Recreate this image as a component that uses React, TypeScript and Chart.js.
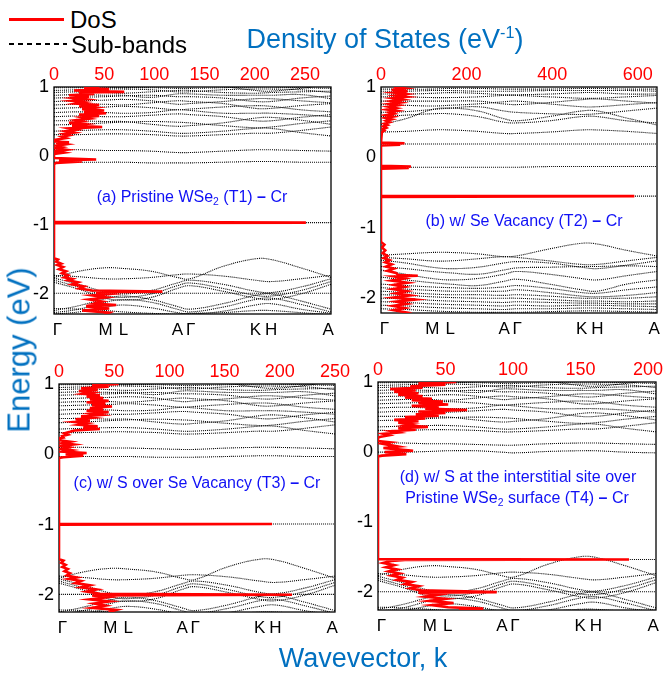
import React, { useEffect, useRef } from 'react';
import { Chart, registerables } from 'chart.js';

Chart.register(...registerables);
Chart.defaults.font.family = '"Liberation Sans", Arial, sans-serif';

// ---------------- k-path / ticks ----------------
const K_NODES = [0, 0.09, 0.185, 0.25, 0.35, 0.445, 0.49, 0.61, 0.727, 0.783, 0.89, 1.0];
const K_TICK_POS = [0.012, 0.186, 0.251, 0.446, 0.493, 0.727, 0.784, 0.99];
const K_TICK_LABELS = ['Γ', 'M', 'L', 'A', 'Γ', 'K', 'H', 'A'];
const ENERGY_TICKS = [1, 0, -1, -2];

const DOS_TICKS_A = [0, 50, 100, 150, 200, 250];
const DOS_TICKS_B = [0, 200, 400, 600];
const DOS_TICKS_C = [0, 50, 100, 150, 200, 250];
const DOS_TICKS_D = [0, 50, 100, 150, 200];
const DOS_MAX_A = 276;
const DOS_MAX_B = 645;
const DOS_MAX_C = 250;
const DOS_MAX_D = 206;
const E_MIN_A = -2.29;
const E_MIN_B = -2.21;
const E_MIN_C = -2.24;
const E_MIN_D = -2.25;

// ---------------- sub-bands (energy at K_NODES) ----------------
const UPPER_ACD = [
  [0.31, 0.31, 0.32, 0.32, 0.31, 0.29, 0.29, 0.31, 0.33, 0.33, 0.37, 0.42],
  [0.36, 0.37, 0.38, 0.38, 0.36, 0.33, 0.33, 0.36, 0.40, 0.40, 0.34, 0.29],
  [0.45, 0.46, 0.48, 0.49, 0.50, 0.49, 0.48, 0.44, 0.41, 0.42, 0.47, 0.51],
  [0.51, 0.51, 0.50, 0.50, 0.46, 0.43, 0.44, 0.48, 0.55, 0.56, 0.52, 0.46],
  [0.57, 0.58, 0.57, 0.57, 0.59, 0.61, 0.60, 0.57, 0.51, 0.51, 0.56, 0.60],
  [0.63, 0.64, 0.63, 0.62, 0.63, 0.67, 0.66, 0.62, 0.62, 0.62, 0.60, 0.57],
  [0.69, 0.70, 0.71, 0.72, 0.70, 0.67, 0.68, 0.71, 0.73, 0.72, 0.67, 0.64],
  [0.74, 0.75, 0.75, 0.74, 0.77, 0.80, 0.79, 0.76, 0.69, 0.69, 0.73, 0.76],
  [0.79, 0.80, 0.81, 0.82, 0.80, 0.75, 0.76, 0.79, 0.83, 0.83, 0.80, 0.77],
  [0.84, 0.85, 0.86, 0.87, 0.88, 0.86, 0.86, 0.84, 0.79, 0.79, 0.84, 0.87],
  [0.88, 0.89, 0.88, 0.88, 0.85, 0.90, 0.90, 0.88, 0.88, 0.88, 0.89, 0.83],
  [0.92, 0.93, 0.92, 0.91, 0.93, 0.95, 0.95, 0.92, 0.91, 0.92, 0.93, 0.94],
  [0.95, 0.96, 0.97, 0.97, 0.96, 0.93, 0.93, 0.96, 0.97, 0.97, 0.96, 0.92],
  [0.99, 0.99, 0.99, 0.99, 0.99, 0.98, 0.98, 0.99, 1.0, 1.0, 0.99, 0.98],
  [1.05, 1.03, 1.0, 0.99, 1.02, 1.06, 1.05, 1.01, 0.95, 0.94, 0.98, 1.04],
];
const LOWER_ACD = [
  [-1.76, -1.67, -1.62, -1.63, -1.67, -1.76, -1.78, -1.6, -1.49, -1.5, -1.62, -1.76],
  [-1.73, -1.75, -1.78, -1.78, -1.76, -1.72, -1.71, -1.74, -1.8, -1.82, -1.78, -1.73],
  [-1.77, -1.86, -1.97, -2.0, -1.95, -1.84, -1.8, -1.86, -1.96, -1.98, -1.9, -1.78],
  [-1.8, -1.9, -2.02, -2.05, -2.0, -1.88, -1.84, -1.92, -2.02, -2.03, -1.95, -1.82],
  [-1.83, -1.93, -2.06, -2.09, -2.05, -1.92, -1.88, -1.96, -2.06, -2.08, -2.0, -1.86],
  [-1.99, -1.99, -1.99, -1.99, -1.99, -1.99, -1.99, -1.99, -1.99, -1.99, -1.99, -1.99],
  [-2.24, -2.17, -2.07, -2.03, -2.08, -2.18, -2.22, -2.14, -2.02, -2.0, -2.1, -2.22],
  [-2.27, -2.22, -2.12, -2.08, -2.12, -2.22, -2.26, -2.19, -2.08, -2.06, -2.15, -2.26],
  [-2.29, -2.26, -2.19, -2.16, -2.2, -2.27, -2.29, -2.25, -2.16, -2.14, -2.22, -2.28],
  [-2.21, -2.22, -2.24, -2.26, -2.28, -2.29, -2.28, -2.27, -2.24, -2.24, -2.27, -2.3],
];
const GAP_A = [
  [0.09, 0.09, 0.08, 0.08, 0.07, 0.05, 0.05, 0.07, 0.09, 0.09, 0.08, 0.07],
  [-0.09, -0.09, -0.09, -0.09, -0.1, -0.1, -0.1, -0.09, -0.08, -0.08, -0.09, -0.09],
  [-0.965, -0.965, -0.965, -0.965, -0.965, -0.965, -0.965, -0.965, -0.965, -0.965, -0.965, -0.965],
];
const GAP_C = [
  [0.1, 0.1, 0.09, 0.09, 0.08, 0.07, 0.07, 0.09, 0.1, 0.1, 0.09, 0.08],
  [-0.03, -0.03, -0.03, -0.03, -0.04, -0.04, -0.04, -0.03, -0.02, -0.02, -0.03, -0.03],
  [-0.99, -0.99, -0.99, -0.99, -0.99, -0.99, -0.99, -0.99, -0.99, -0.99, -0.99, -0.99],
];
const GAP_D = [
  [0.13, 0.13, 0.12, 0.12, 0.11, 0.1, 0.1, 0.12, 0.13, 0.13, 0.12, 0.11],
  [0.0, 0.0, 0.01, 0.02, 0.02, 0.0, -0.01, 0.01, 0.02, 0.02, 0.0, -0.01],
  [-1.53, -1.53, -1.53, -1.53, -1.53, -1.53, -1.53, -1.53, -1.53, -1.53, -1.53, -1.53],
];
const UPPER_B = [
  [0.36, 0.37, 0.39, 0.39, 0.37, 0.34, 0.34, 0.36, 0.39, 0.39, 0.37, 0.34],
  [0.47, 0.55, 0.68, 0.7, 0.66, 0.55, 0.52, 0.58, 0.66, 0.66, 0.56, 0.46],
  [0.58, 0.6, 0.62, 0.62, 0.58, 0.5, 0.49, 0.52, 0.58, 0.58, 0.52, 0.49],
  [0.64, 0.65, 0.68, 0.7, 0.72, 0.66, 0.64, 0.62, 0.61, 0.62, 0.66, 0.7],
  [0.75, 0.74, 0.73, 0.74, 0.76, 0.79, 0.8, 0.76, 0.72, 0.72, 0.75, 0.78],
  [0.8, 0.8, 0.8, 0.8, 0.8, 0.76, 0.75, 0.78, 0.82, 0.83, 0.8, 0.77],
  [0.86, 0.86, 0.85, 0.85, 0.86, 0.88, 0.88, 0.86, 0.84, 0.84, 0.86, 0.88],
  [0.9, 0.9, 0.91, 0.92, 0.91, 0.89, 0.89, 0.9, 0.92, 0.92, 0.9, 0.9],
  [0.94, 0.94, 0.95, 0.95, 0.94, 0.94, 0.94, 0.95, 0.95, 0.95, 0.95, 0.94],
  [0.97, 0.97, 0.97, 0.98, 0.98, 0.97, 0.97, 0.97, 0.98, 0.98, 0.97, 0.97],
];
const GAP_B = [
  [0.19, 0.19, 0.19, 0.19, 0.19, 0.19, 0.19, 0.19, 0.19, 0.19, 0.19, 0.19],
  [-0.14, -0.14, -0.14, -0.14, -0.14, -0.14, -0.14, -0.13, -0.13, -0.13, -0.13, -0.13],
  [-0.55, -0.55, -0.55, -0.55, -0.55, -0.55, -0.55, -0.55, -0.55, -0.55, -0.55, -0.55],
];
const LOWER_B = [
  [-1.39, -1.37, -1.35, -1.35, -1.37, -1.41, -1.4, -1.3, -1.22, -1.23, -1.32, -1.4],
  [-1.42, -1.44, -1.47, -1.47, -1.44, -1.41, -1.42, -1.47, -1.52, -1.52, -1.47, -1.42],
  [-1.46, -1.5, -1.56, -1.58, -1.56, -1.5, -1.48, -1.5, -1.56, -1.58, -1.53, -1.47],
  [-1.55, -1.58, -1.62, -1.64, -1.66, -1.6, -1.57, -1.56, -1.55, -1.55, -1.54, -1.55],
  [-1.6, -1.66, -1.72, -1.74, -1.72, -1.66, -1.62, -1.66, -1.72, -1.74, -1.68, -1.62],
  [-1.7, -1.74, -1.78, -1.8, -1.82, -1.76, -1.73, -1.8, -1.88, -1.9, -1.8, -1.74],
  [-1.8, -1.82, -1.84, -1.85, -1.86, -1.84, -1.82, -1.86, -1.92, -1.93, -1.88, -1.84],
  [-1.85, -1.87, -1.89, -1.9, -1.9, -1.9, -1.88, -1.92, -1.97, -1.98, -1.96, -1.92],
  [-1.9, -1.92, -1.94, -1.95, -1.95, -1.96, -1.95, -1.97, -2.0, -2.0, -2.0, -1.98],
  [-1.95, -1.96, -1.98, -1.99, -2.0, -2.0, -2.0, -2.02, -2.04, -2.04, -2.05, -2.04],
  [-2.0, -2.01, -2.03, -2.04, -2.05, -2.06, -2.05, -2.06, -2.07, -2.07, -2.08, -2.08],
  [-2.05, -2.06, -2.08, -2.09, -2.1, -2.11, -2.1, -2.11, -2.1, -2.1, -2.11, -2.12],
  [-2.1, -2.11, -2.13, -2.14, -2.15, -2.16, -2.15, -2.15, -2.14, -2.14, -2.15, -2.16],
  [-2.15, -2.16, -2.18, -2.19, -2.2, -2.2, -2.2, -2.19, -2.18, -2.18, -2.19, -2.2],
];

// ---------------- density of states (energy, value) ----------------
const DOS_A_E = [1.0, 0.98, 0.97, 0.95, 0.93, 0.92, 0.9, 0.88, 0.86, 0.84, 0.82, 0.8, 0.78, 0.76, 0.74, 0.72, 0.7, 0.68, 0.66, 0.64, 0.62, 0.6, 0.58, 0.56, 0.54, 0.52, 0.5, 0.48, 0.46, 0.44, 0.42, 0.4, 0.38, 0.36, 0.34, 0.32, 0.3, 0.28, 0.26, 0.24, 0.23, 0.21, 0.2, 0.19, 0.17, 0.15, 0.13, 0.11, 0.09, 0.07, 0.05, 0.03, -0.03, -0.05, -0.06, -0.08, -0.1, -0.12, -0.955, -0.965, -0.975, -1.48, -1.5, -1.53, -1.56, -1.58, -1.61, -1.64, -1.67, -1.7, -1.73, -1.76, -1.78, -1.8, -1.83, -1.86, -1.89, -1.92, -1.95, -1.965, -1.975, -2.0, -2.02, -2.05, -2.08, -2.11, -2.14, -2.16, -2.18, -2.21, -2.24, -2.27, -2.3];
const DOS_A_V = [45, 30, 55, 20, 70, 25, 40, 15, 35, 20, 32, 18, 30, 22, 45, 25, 40, 28, 50, 30, 52, 25, 45, 28, 35, 22, 28, 15, 30, 18, 48, 15, 22, 12, 20, 10, 15, 8, 12, 3, 0, 0, 15, 2, 12, 2, 8, 1, 12, 2, 10, 0, 0, 42, 5, 28, 2, 0, 0, 251, 0, 0, 4, 2, 7, 3, 9, 5, 12, 8, 14, 10, 18, 14, 24, 18, 30, 25, 38, 108, 42, 55, 38, 52, 35, 48, 40, 62, 32, 55, 28, 55, 50];

const DOS_B_E = [1.0, 0.98, 0.96, 0.94, 0.92, 0.9, 0.88, 0.86, 0.84, 0.82, 0.8, 0.78, 0.76, 0.74, 0.72, 0.7, 0.68, 0.66, 0.64, 0.62, 0.6, 0.58, 0.56, 0.54, 0.52, 0.5, 0.48, 0.46, 0.44, 0.42, 0.4, 0.38, 0.36, 0.35, 0.21, 0.2, 0.19, 0.18, 0.17, -0.12, -0.13, -0.14, -0.15, -0.16, -0.545, -0.55, -0.56, -1.2, -1.24, -1.28, -1.32, -1.36, -1.4, -1.43, -1.46, -1.49, -1.52, -1.55, -1.58, -1.61, -1.64, -1.67, -1.68, -1.69, -1.72, -1.75, -1.78, -1.81, -1.84, -1.87, -1.9, -1.93, -1.96, -1.99, -2.02, -2.05, -2.08, -2.11, -2.14, -2.17, -2.2, -2.21];
const DOS_B_V = [30, 55, 25, 62, 30, 58, 35, 60, 28, 50, 25, 45, 20, 40, 18, 35, 15, 38, 20, 30, 12, 28, 10, 25, 12, 20, 8, 15, 5, 12, 4, 8, 2, 0, 0, 55, 10, 45, 0, 0, 70, 20, 65, 0, 0, 592, 0, 0, 8, 2, 10, 4, 15, 6, 20, 10, 25, 12, 30, 15, 35, 40, 86, 30, 55, 25, 62, 30, 55, 28, 60, 35, 68, 30, 80, 35, 60, 28, 55, 30, 58, 50];

const DOS_C_E = [1.0, 0.98, 0.96, 0.94, 0.92, 0.9, 0.88, 0.86, 0.84, 0.82, 0.8, 0.78, 0.76, 0.74, 0.72, 0.7, 0.68, 0.66, 0.64, 0.62, 0.6, 0.58, 0.56, 0.54, 0.52, 0.5, 0.48, 0.46, 0.44, 0.42, 0.4, 0.38, 0.36, 0.34, 0.32, 0.3, 0.28, 0.26, 0.24, 0.23, 0.2, 0.18, 0.16, 0.14, 0.12, 0.1, 0.08, 0.06, 0.04, 0.02, 0.0, -0.02, -0.04, -0.05, -0.985, -0.99, -1.0, -1.49, -1.51, -1.54, -1.57, -1.6, -1.63, -1.66, -1.69, -1.72, -1.75, -1.77, -1.8, -1.83, -1.86, -1.89, -1.92, -1.95, -1.98, -1.995, -2.005, -2.03, -2.06, -2.09, -2.12, -2.15, -2.18, -2.21, -2.24];
const DOS_C_V = [54, 30, 45, 20, 35, 18, 30, 22, 37, 25, 40, 28, 45, 25, 42, 30, 48, 28, 40, 25, 45, 30, 38, 20, 30, 15, 28, 14, 25, 18, 35, 22, 37, 14, 10, 5, 8, 3, 4, 0, 0, 10, 3, 13, 2, 9, 2, 11, 3, 25, 6, 22, 4, 0, 0, 193, 0, 0, 4, 2, 6, 3, 8, 5, 10, 7, 16, 9, 20, 15, 28, 20, 34, 25, 37, 211, 30, 44, 28, 46, 32, 42, 30, 52, 45];

const DOS_D_E = [1.0, 0.98, 0.96, 0.94, 0.92, 0.9, 0.88, 0.86, 0.84, 0.82, 0.8, 0.78, 0.76, 0.74, 0.72, 0.7, 0.68, 0.66, 0.64, 0.62, 0.6, 0.58, 0.56, 0.54, 0.52, 0.5, 0.48, 0.46, 0.44, 0.42, 0.4, 0.38, 0.36, 0.34, 0.32, 0.3, 0.28, 0.26, 0.24, 0.22, 0.21, 0.16, 0.14, 0.12, 0.1, 0.08, 0.06, 0.04, 0.02, 0.0, -0.03, -0.05, -0.06, -1.525, -1.53, -1.535, -1.55, -1.58, -1.61, -1.64, -1.67, -1.7, -1.73, -1.76, -1.79, -1.82, -1.85, -1.88, -1.91, -1.94, -1.97, -1.995, -2.005, -2.03, -2.06, -2.09, -2.12, -2.15, -2.18, -2.21, -2.23, -2.25];
const DOS_D_V = [58, 30, 50, 24, 33, 9, 28, 12, 30, 15, 33, 20, 40, 25, 48, 30, 52, 25, 45, 35, 66, 30, 50, 28, 45, 20, 35, 12, 30, 15, 25, 20, 37, 15, 28, 10, 15, 4, 8, 2, 0, 0, 9, 3, 9, 15, 4, 15, 26, 5, 21, 3, 0, 0, 186, 20, 10, 4, 12, 6, 14, 8, 16, 10, 18, 14, 25, 20, 30, 24, 32, 88, 30, 45, 35, 50, 38, 56, 40, 52, 78, 60];

// ---------------- layout (positions / sizes, not data) ----------------
const Y_AXIS_W = 34;
const TOP_AXIS_H = 30;
const BOTTOM_AXIS_H = 32;

const PANELS = [
  { left: 20, top: 57, plotW: 277, plotH: 227, padR: 18, upper: UPPER_ACD, gap: GAP_A, lower: LOWER_ACD, dosE: DOS_A_E, dosV: DOS_A_V, dosTicks: DOS_TICKS_A, dosMax: DOS_MAX_A, eMin: E_MIN_A },
  { left: 347, top: 57, plotW: 276, plotH: 226, padR: 12, upper: UPPER_B, gap: GAP_B, lower: LOWER_B, dosE: DOS_B_E, dosV: DOS_B_V, dosTicks: DOS_TICKS_B, dosMax: DOS_MAX_B, eMin: E_MIN_B },
  { left: 25, top: 354, plotW: 276, plotH: 228, padR: 18, upper: UPPER_ACD, gap: GAP_C, lower: LOWER_ACD, dosE: DOS_C_E, dosV: DOS_C_V, dosTicks: DOS_TICKS_C, dosMax: DOS_MAX_C, eMin: E_MIN_C },
  { left: 344, top: 352, plotW: 278, plotH: 228, padR: 12, upper: UPPER_ACD, gap: GAP_D, lower: LOWER_ACD, dosE: DOS_D_E, dosV: DOS_D_V, dosTicks: DOS_TICKS_D, dosMax: DOS_MAX_D, eMin: E_MIN_D },
];

const TITLE_BLUE = '#0070C0';
const LABEL_BLUE = '#1010f5';
const FONT = '"Liberation Sans", Arial, sans-serif';

const framePlugin = {
  id: 'frame',
  beforeDatasetsDraw(chart: any) {
    const { ctx, chartArea: a } = chart;
    ctx.save();
    ctx.strokeStyle = '#000';
    ctx.lineWidth = 1.3;
    ctx.strokeRect(a.left, a.top, a.right - a.left, a.bottom - a.top);
    ctx.restore();
  },
};

function buildConfig(p: any) {
  const bands = [...p.upper, ...p.gap, ...p.lower].map((b: number[]) => ({
    data: b.map((e, i) => ({ x: K_NODES[i], y: e })),
    xAxisID: 'k',
    yAxisID: 'e',
    borderColor: '#000',
    borderWidth: 1.1,
    borderDash: [1, 1],
    pointRadius: 0,
    tension: 0.4,
    fill: false,
  }));
  const dos = {
    data: p.dosE.map((e: number, i: number) => ({ x: p.dosV[i], y: e })),
    xAxisID: 'dos',
    yAxisID: 'e',
    borderColor: '#ff0000',
    borderWidth: 2.6,
    pointRadius: 0,
    tension: 0,
    fill: false,
  };
  const noGrid = { display: false, drawTicks: false };
  return {
    type: 'line',
    data: { datasets: [dos, ...bands] },
    plugins: [framePlugin],
    options: {
      animation: false,
      responsive: false,
      events: [],
      layout: { autoPadding: false, padding: { left: 0, right: p.padR, top: 0, bottom: 0 } },
      plugins: { legend: { display: false }, tooltip: { enabled: false } },
      scales: {
        k: {
          type: 'linear', position: 'bottom', min: 0, max: 1,
          grid: noGrid, border: { display: false },
          afterBuildTicks: (s: any) => { s.ticks = K_TICK_POS.map((v) => ({ value: v })); },
          afterFit: (s: any) => { s.height = BOTTOM_AXIS_H; },
          ticks: { autoSkip: false, maxRotation: 0, padding: 6, color: '#000', font: { size: 17 },
            callback: (_v: any, i: number) => K_TICK_LABELS[i] },
        },
        dos: {
          type: 'linear', position: 'top', min: 0, max: p.dosMax,
          grid: noGrid, border: { display: false },
          afterBuildTicks: (s: any) => { s.ticks = p.dosTicks.map((v: number) => ({ value: v })); },
          afterFit: (s: any) => { s.height = TOP_AXIS_H; },
          ticks: { autoSkip: false, maxRotation: 0, padding: 1, color: '#ff0000', font: { size: 18 },
            callback: (v: any) => String(v) },
        },
        e: {
          type: 'linear', position: 'left', min: p.eMin, max: 1,
          grid: noGrid, border: { display: false },
          afterBuildTicks: (s: any) => { s.ticks = ENERGY_TICKS.map((v) => ({ value: v })); },
          afterFit: (s: any) => { s.width = Y_AXIS_W; },
          ticks: { padding: 5, color: '#000', font: { size: 18 }, callback: (v: any) => String(v) },
        },
      },
    },
  };
}

function Panel({ p }: { p: any }) {
  const ref = useRef<HTMLCanvasElement>(null);
  const w = Y_AXIS_W + p.plotW + p.padR;
  const h = TOP_AXIS_H + p.plotH + BOTTOM_AXIS_H;
  useEffect(() => {
    const chart = new Chart(ref.current as HTMLCanvasElement, buildConfig(p) as any);
    return () => chart.destroy();
  }, []);
  return (
    <canvas ref={ref} width={w} height={h}
      style={{ position: 'absolute', left: p.left, top: p.top, width: w, height: h }} />
  );
}

function Txt({ x, y, size, color, children, rotate, weight }: any) {
  return (
    <div style={{
      position: 'absolute', left: x, top: y, whiteSpace: 'nowrap', lineHeight: 1,
      fontSize: size, color, fontWeight: weight || 'normal', fontFamily: FONT,
      transform: `translate(-50%, -50%)${rotate ? ` rotate(${rotate}deg)` : ''}`,
    }}>{children}</div>
  );
}

const Sub = ({ children }: any) => (
  <span style={{ fontSize: '0.65em', position: 'relative', top: '0.3em' }}>{children}</span>
);
const Sup = ({ children }: any) => (
  <span style={{ fontSize: '0.6em', position: 'relative', top: '-0.6em' }}>{children}</span>
);
const Dash = () => <span style={{ fontWeight: 'bold' }}>–</span>;

export default function App() {
  return (
    <div style={{ position: 'absolute', left: 0, top: 0, width: 671, height: 675, overflow: 'hidden', background: '#fff' }}>
      {PANELS.map((p, i) => <Panel key={i} p={p} />)}

      {/* legend */}
      <div style={{ position: 'absolute', left: 9, top: 17.5, width: 55, height: 3, background: '#ff0000' }} />
      <svg style={{ position: 'absolute', left: 9, top: 42 }} width={58} height={4}>
        <line x1={0} y1={2} x2={58} y2={2} stroke="#000" strokeWidth={2} strokeDasharray="5,4" />
      </svg>
      <div style={{ position: 'absolute', left: 70, top: 20 - 0.49 * 24, fontSize: 24, lineHeight: 1, fontFamily: FONT, color: '#000' }}>DoS</div>
      <div style={{ position: 'absolute', left: 71, top: 45 - 0.49 * 24, fontSize: 24, lineHeight: 1, fontFamily: FONT, color: '#000' }}>Sub-bands</div>

      <Txt x={385} y={39} size={27} color={TITLE_BLUE}>Density of States (eV<Sup>-1</Sup>)</Txt>
      <Txt x={19} y={350} size={31} color={TITLE_BLUE} rotate={-90}>Energy (eV)</Txt>
      <Txt x={363} y={658} size={27} color={TITLE_BLUE}>Wavevector, k</Txt>

      <Txt x={192} y={197} size={16} color={LABEL_BLUE}>(a) Pristine WSe<Sub>2</Sub> (T1) <Dash /> Cr</Txt>
      <Txt x={524} y={221} size={16} color={LABEL_BLUE}>(b) w/ Se Vacancy (T2) <Dash /> Cr</Txt>
      <Txt x={197} y={483} size={16} color={LABEL_BLUE}>(c) w/ S over Se Vacancy (T3) <Dash /> Cr</Txt>
      <Txt x={518} y={477} size={16} color={LABEL_BLUE}>(d) w/ S at the interstitial site over</Txt>
      <Txt x={517} y={498} size={16} color={LABEL_BLUE}>Pristine WSe<Sub>2</Sub> surface (T4) <Dash /> Cr</Txt>
    </div>
  );
}
